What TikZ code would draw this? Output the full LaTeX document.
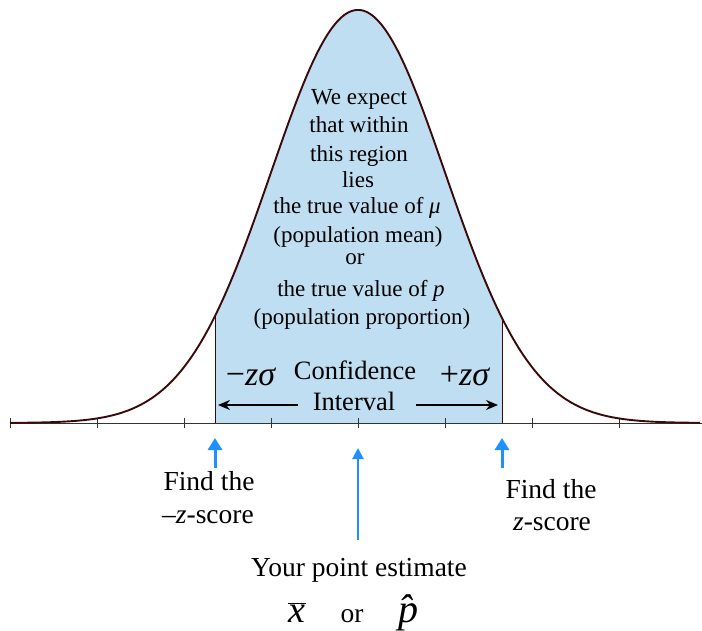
\documentclass[tikz,border=0pt]{standalone}
\usepackage{fontspec}
\setmainfont{Liberation Serif}
\usetikzlibrary{arrows.meta}
\definecolor{curvec}{HTML}{3A0A0A}
\definecolor{fillc}{HTML}{C0DEF2}
\definecolor{arrowc}{HTML}{1E90FF}
\tikzset{
  txt/.style={inner sep=0pt, anchor=base},
  inner/.style={txt, font=\fontsize{23}{26}\selectfont},
  ci/.style={txt, font=\fontsize{26.5}{30}\selectfont},
  zs/.style={txt, font=\fontsize{34}{36}\selectfont},
  lbl/.style={txt, font=\fontsize{27.5}{31}\selectfont},
  bluebig/.style={draw=arrowc, line width=3pt, -{Triangle[width=14pt,length=12pt]}},
  bluethin/.style={draw=arrowc, line width=2pt, -{Triangle[width=11pt,length=11pt]}},
  blackarr/.style={draw=black, line width=1.6pt, -{Stealth[width=10pt,length=12pt]}},
  declare function={bell(\x)=423-413*exp(-0.5*((\x-358)/87)*((\x-358)/87));}
}
\begin{document}
\begin{tikzpicture}[x=1pt,y=-1pt]
\useasboundingbox (0,0) rectangle (702,631);
% shaded region
\fill[fillc] (215,423) -- plot[domain=215:502,samples=120] (\x,{bell(\x)}) -- (502,423) -- cycle;
\draw[curvec, line width=0.9pt] (215,423) -- (215,{bell(215)});
\draw[curvec, line width=0.9pt] (502,423) -- (502,{bell(502)});
% axis
\draw[line width=1pt, black!80] (10,423) -- (702,423);
\foreach \t in {-4,...,3} \draw[line width=1pt, black!80] ({358+87*\t},418) -- ({358+87*\t},428);
% curve
\draw[curvec, line width=1.9pt, line join=round] plot[domain=10:700,samples=300] (\x,{bell(\x)});
% inner text
\node[inner] (l1) at (359,105) {We expect};
\node[inner] (l2) at (359,133) {that within};
\node[inner] (l3) at (359,162) {this region};
\node[inner] (l4) at (358,188) {lies};
\node[inner] (l5) at (357,214) {the true value of \textit{μ}};
\node[inner] (l6) at (358,243) {(population mean)};
\node[inner] (l7) at (355,265) {or};
\node[inner] (l8) at (361,297) {the true value of \textit{p}};
\node[inner] (l9) at (362,325) {(population proportion)};
% confidence interval
\node[ci] (conf) at (355,379) {Confidence};
\node[ci] (intv) at (354,410) {Interval};
\node[zs] (mz) at (251,385) {−\textit{zσ}};
\node[zs] (pz) at (465,385) {+\textit{zσ}};
\coordinate (la0) at (298,405); \coordinate (la1) at (218,405);
\coordinate (ra0) at (416,405); \coordinate (ra1) at (498,405);
\draw[blackarr] (la0) -- (la1);
\draw[blackarr] (ra0) -- (ra1);
% blue arrows
\coordinate (b1s) at (215,468); \coordinate (b1e) at (215,438);
\coordinate (b2s) at (502,468); \coordinate (b2e) at (502,438);
\coordinate (b3s) at (358,540); \coordinate (b3e) at (358,448);
\draw[bluebig] (b1s) -- (b1e);
\draw[bluebig] (b2s) -- (b2e);
\draw[bluethin] (b3s) -- (b3e);
% labels
\node[lbl] (f1) at (209,490) {Find the};
\node[lbl] (f2) at (208,523) {–\textit{z}-score};
\node[lbl] (f3) at (551,498) {Find the};
\node[lbl] (f4) at (552,530) {\textit{z}-score};
\node[lbl] (pe) at (359,576) {Your point estimate};
\node[txt, font=\fontsize{38}{44}\selectfont] (xb) at (297,622) {$\overline{\hbox{\itshape x\kern1pt}}$};
\node[lbl] (or) at (352,622) {or};
\node[txt, font=\fontsize{40}{44}\selectfont] (ph) at (408,622) {\^{\itshape p}};
\end{tikzpicture}
\end{document}
